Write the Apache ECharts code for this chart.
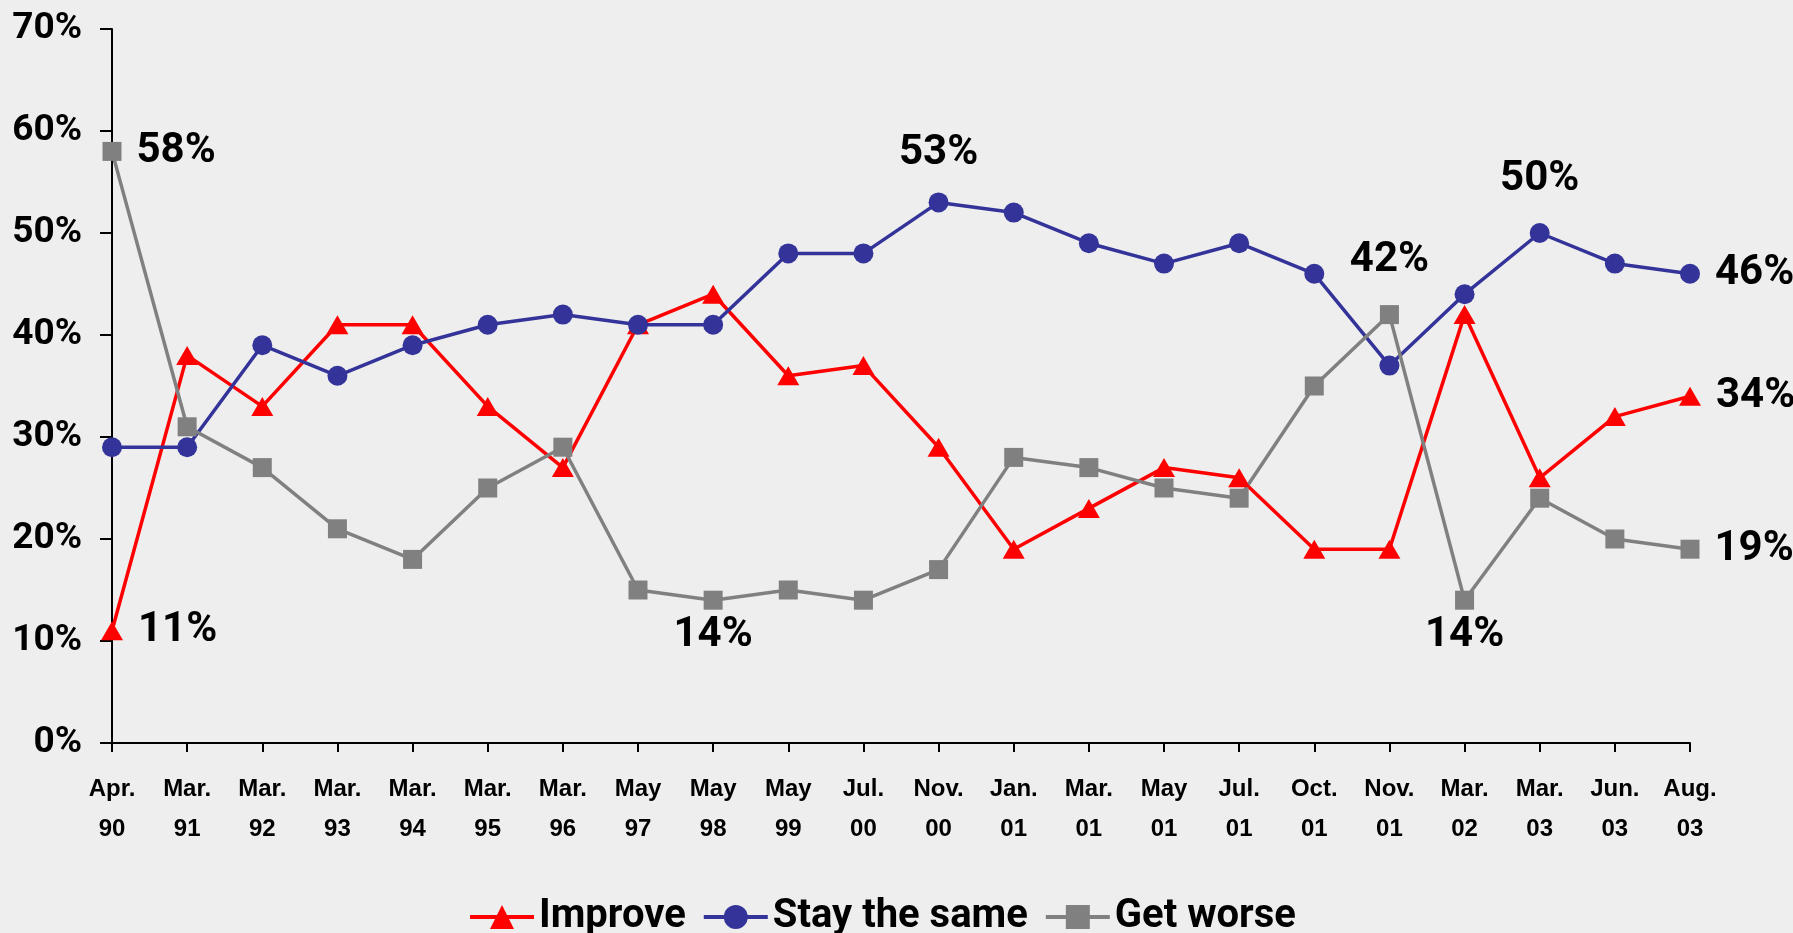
<!DOCTYPE html>
<html>
<head>
<meta charset="utf-8">
<script src="https://cdn.jsdelivr.net/npm/echarts@6/dist/echarts.min.js"></script>
<style>
html,body{margin:0;padding:0;background:#eeeeee;}
#chart{width:1793px;height:933px;}
</style>
</head>
<body>
<div id="chart"></div>
<script>
const categories = ['Apr.\n90','Mar.\n91','Mar.\n92','Mar.\n93','Mar.\n94','Mar.\n95','Mar.\n96','May\n97','May\n98','May\n99','Jul.\n00','Nov.\n00','Jan.\n01','Mar.\n01','May\n01','Jul.\n01','Oct.\n01','Nov.\n01','Mar.\n02','Mar.\n03','Jun.\n03','Aug.\n03'];
const improve   = [11,38,33,41,41,33,27,41,44,36,37,29,19,23,27,26,19,19,42,26,32,34];
const staySame  = [29,29,39,36,39,41,42,41,41,48,48,53,52,49,47,49,46,37,44,50,47,46];
const getWorse  = [58,31,27,21,18,25,29,15,14,15,14,17,28,27,25,24,35,42,14,24,20,19];
const yTicks = [0,10,20,30,40,50,60,70];

// which points carry a value label, and where it sits
const labelSpec = {
  improve:  {0:['right',15], 21:['right',15]},
  staySame: {11:['top',18], 19:['top',23], 21:['right',15]},
  getWorse: {0:['right',15], 8:['bottom',5], 17:['top',24], 18:['bottom',5], 21:['right',15]}
};

const bigFont = 'Roboto, "Liberation Sans", sans-serif';
const labelFont = {fontFamily:bigFont, fontWeight:'bold', fontSize:42, color:'#000'};

function build(values, spec){
  return values.map((v,i)=>{
    const s = spec[i];
    if(!s) return v;
    return {value:v, label:Object.assign({show:true, position:s[0], distance:s[1], formatter:'{c}%'}, labelFont)};
  });
}

const chart = echarts.init(document.getElementById('chart'), null, {renderer:'canvas'});
chart.setOption({
  backgroundColor:'#eeeeee',
  animation:false,
  grid:{left:112, right:103, top:29, bottom:190, containLabel:false},
  legend:{
    data:['Improve','Stay the same','Get worse'],
    left:463, top:892,
    itemWidth:64, itemHeight:30, itemGap:16,
    lineStyle:{width:4},
    textStyle:{fontFamily:bigFont, fontWeight:'bold', fontSize:40, color:'#000'}
  },
  xAxis:{
    type:'category', data:categories, boundaryGap:false,
    axisLine:{lineStyle:{color:'#000', width:2}},
    axisTick:{show:true, length:9, lineStyle:{color:'#000', width:2}},
    axisLabel:{fontFamily:'"Liberation Sans", Arial, sans-serif', fontWeight:'bold', fontSize:24, lineHeight:40, color:'#000', margin:26, interval:0}
  },
  yAxis:{
    type:'value', min:yTicks[0], max:yTicks[yTicks.length-1], interval:10,
    axisLine:{show:true, lineStyle:{color:'#000', width:2}},
    axisTick:{show:true, length:12, lineStyle:{color:'#000', width:2}},
    splitLine:{show:false},
    axisLabel:{formatter:'{value}%', fontFamily:bigFont, fontWeight:'bold', fontSize:37, color:'#000', margin:30}
  },
  series:[
    {name:'Improve', type:'line', data:build(improve, labelSpec.improve),
     symbol:'triangle', symbolSize:[22,19], lineStyle:{color:'#ff0000', width:3.5},
     itemStyle:{color:'#ff0000'}, color:'#ff0000'},
    {name:'Stay the same', type:'line', data:build(staySame, labelSpec.staySame),
     symbol:'circle', symbolSize:20, lineStyle:{color:'#333399', width:3.5},
     itemStyle:{color:'#333399'}, color:'#333399'},
    {name:'Get worse', type:'line', data:build(getWorse, labelSpec.getWorse),
     symbol:'rect', symbolSize:19, lineStyle:{color:'#808080', width:3.5},
     itemStyle:{color:'#808080'}, color:'#808080'}
  ]
});
</script>
</body>
</html>
